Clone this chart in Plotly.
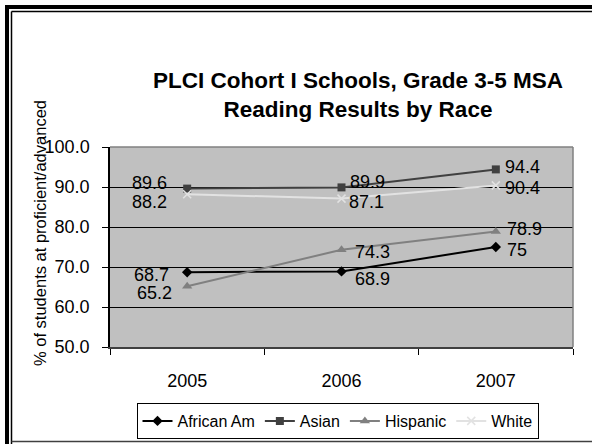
import plotly.graph_objects as go

years = ["2005", "2006", "2007"]
african_am = [68.7, 68.9, 75]
asian = [89.6, 89.9, 94.4]
hispanic = [65.2, 74.3, 78.9]
white = [88.2, 87.1, 90.4]

series = [
    ("African Am", african_am, "#000000", "diamond", 8),
    ("Asian", asian, "#404040", "square", 8),
    ("Hispanic", hispanic, "#808080", "triangle-up", 9),
    ("White", white, "#E2E2E2", "x-thin", 8),
]

# label placement styles (anchor, xshift, yshift) per series per point
label_style = {
    "African Am": [("right", -16, -3), ("left", 11, -8), ("left", 9, -3)],
    "Asian": [("right", -18, 6), ("left", 6, 5), ("left", 7, 2)],
    "Hispanic": [("right", -13, -7), ("left", 11, -2), ("left", 9, 2)],
    "White": [("right", -18, -8), ("left", 5, -3), ("left", 7, -3)],
}

FONT = "Liberation Sans, Arial, sans-serif"
W, H = 592, 444
L, R, T, B = 110, 19, 147, 97
PW, PH = W - L - R, H - T - B


def px(x):
    return (x - L) / PW


def py(y):
    return (H - B - y) / PH


fig = go.Figure()
annotations = []
for name, vals, color, sym, size in series:
    if sym == "x-thin":
        marker = dict(symbol=sym, size=size, color=color, line=dict(color=color, width=1.5))
    else:
        marker = dict(symbol=sym, size=size, color=color)
    fig.add_trace(go.Scatter(
        x=years, y=vals, name=name, mode="lines+markers",
        line=dict(color=color, width=2), marker=marker,
    ))
    for i, v in enumerate(vals):
        anc, xs, ys = label_style[name][i]
        annotations.append(dict(
            x=i, y=v, xref="x", yref="y", text=f"{v:g}", showarrow=False,
            xanchor=anc, yanchor="middle", xshift=xs, yshift=ys,
            font=dict(family=FONT, size=18, color="#000000"),
        ))

annotations.append(dict(
    x=px(40), y=py(233), xref="paper", yref="paper", textangle=-90,
    text="% of students at proficient/advanced", showarrow=False,
    xanchor="center", yanchor="middle",
    font=dict(family=FONT, size=16.5, color="#000000"),
))

shapes = [
    # plot area top/right border (gray)
    dict(type="line", xref="paper", yref="paper", x0=0, x1=1, y0=1, y1=1,
         line=dict(color="#808080", width=1.5)),
    dict(type="line", xref="paper", yref="paper", x0=1, x1=1, y0=0, y1=1,
         line=dict(color="#808080", width=1.5)),
    # outer double frame
    dict(type="line", xref="paper", yref="paper", x0=px(7), x1=px(7), y0=py(5), y1=py(444),
         line=dict(color="#000000", width=4)),
    dict(type="line", xref="paper", yref="paper", x0=px(5), x1=px(592), y0=py(7), y1=py(7),
         line=dict(color="#000000", width=4)),
    dict(type="line", xref="paper", yref="paper", x0=px(11.5), x1=px(11.5), y0=py(11.5), y1=py(444),
         line=dict(color="#000000", width=1.5)),
    dict(type="line", xref="paper", yref="paper", x0=px(11.5), x1=px(592), y0=py(11.5), y1=py(11.5),
         line=dict(color="#000000", width=1.5)),
    dict(type="line", xref="paper", yref="paper", x0=px(11.5), x1=px(592), y0=py(441.5), y1=py(441.5),
         line=dict(color="#404040", width=1.5)),
]

fig.update_layout(
    width=W, height=H,
    margin=dict(l=L, r=R, t=T, b=B, autoexpand=False),
    paper_bgcolor="#FFFFFF", plot_bgcolor="#C0C0C0",
    font=dict(family=FONT, size=18, color="#000000"),
    title=dict(
        text="PLCI Cohort I Schools, Grade 3-5 MSA<br>Reading Results by Race",
        x=px(358), xref="paper", xanchor="center",
        y=1 - 88 / H, yref="container", yanchor="middle",
        font=dict(family=FONT, size=22.5, color="#000000", weight="bold"),
    ),
    xaxis=dict(
        type="category", tickson="boundaries", ticks="outside", ticklen=6,
        tickcolor="#000000", showline=True, linecolor="#404040", linewidth=1.5,
        showgrid=False, range=[-0.5, 2.5], ticklabelstandoff=17,
        tickfont=dict(family=FONT, size=18), fixedrange=True,
    ),
    yaxis=dict(
        range=[50, 100], dtick=10, tick0=50, tickformat=".1f",
        ticks="outside", ticklen=6, tickcolor="#000000",
        showline=True, linecolor="#000000", linewidth=1.5,
        showgrid=True, gridcolor="#000000", gridwidth=1, zeroline=False,
        tickfont=dict(family=FONT, size=18), ticklabelstandoff=9, fixedrange=True,
    ),
    legend=dict(
        orientation="h", x=px(337.5), xanchor="center", y=py(421), yanchor="middle",
        bgcolor="#FFFFFF", bordercolor="#000000", borderwidth=1,
        font=dict(family=FONT, size=16), itemwidth=30, tracegroupgap=0,
    ),
    annotations=annotations,
    shapes=shapes,
    showlegend=True,
)

fig.write_html(
    "out.html",
    config={"displayModeBar": False},
    default_width="592px",
    default_height="444px",
    post_script=(
        "var s=document.createElement('style');"
        "s.textContent='html,body{margin:0;padding:0;overflow:hidden;}"
        "::-webkit-scrollbar{display:none;width:0;height:0;}';"
        "document.head.appendChild(s);"
    ),
)
